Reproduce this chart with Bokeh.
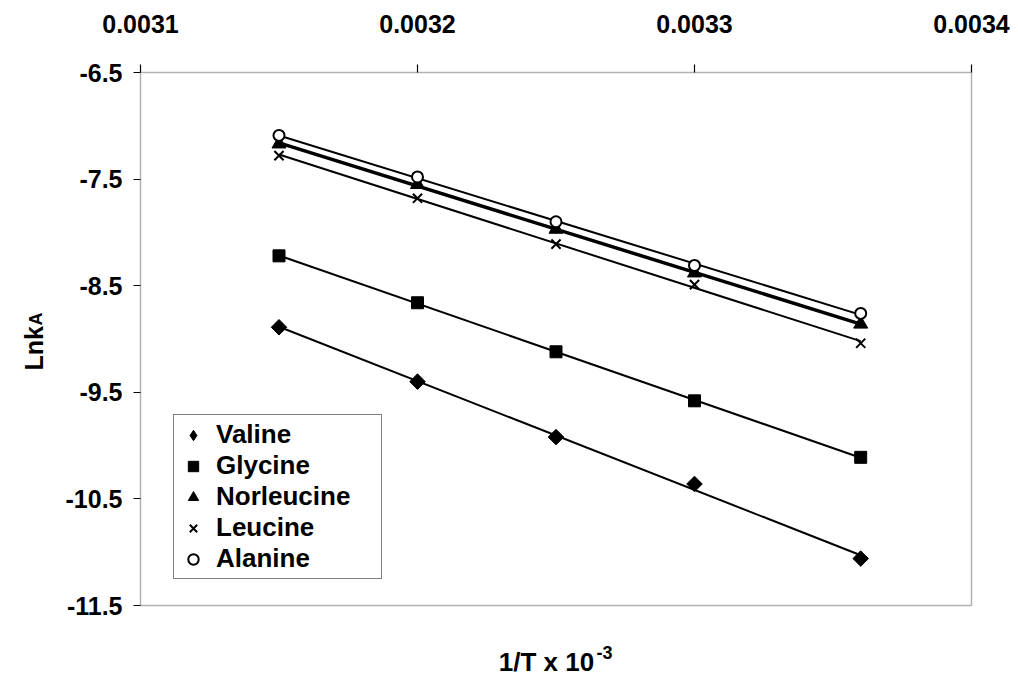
import numpy as np
from bokeh.plotting import figure
from bokeh.models import (FixedTicker, PrintfTickFormatter, Range1d, Label, Legend, LegendItem,
                          BoxAnnotation)
from bokeh.embed import file_html
from bokeh.resources import INLINE

# ---- data ----
inv_T = [0.00315, 0.0032, 0.00325, 0.0033, 0.00336]
valine = [-8.89, -9.40, -9.92, -10.36, -11.06]
glycine = [-8.22, -8.66, -9.12, -9.58, -10.11]
norleucine = [-7.17, -7.55, -7.97, -8.38, -8.86]
leucine = [-7.28, -7.68, -8.11, -8.49, -9.04]
alanine = [-7.09, -7.48, -7.90, -8.31, -8.76]
series_names = ["Valine", "Glycine", "Norleucine", "Leucine", "Alanine"]
x_ticks = [0.0031, 0.0032, 0.0033, 0.0034]
y_ticks = [-6.5, -7.5, -8.5, -9.5, -10.5, -11.5]

FONT = "Liberation Sans"

# ---- layout (pixels on the canvas) ----
W, H = 1018, 677
BOX_L, BOX_R, BOX_T, BOX_B = 140, 971, 72, 605
X0, X1 = x_ticks[0], x_ticks[-1]
Y0, Y1 = y_ticks[-1], y_ticks[0]
dx = (X1 - X0) / (BOX_R - BOX_L)
dy = (Y1 - Y0) / (BOX_B - BOX_T)
x_range = Range1d(X0 - BOX_L * dx, X1 + (W - BOX_R) * dx)
y_range = Range1d(Y0 - (H - BOX_B) * dy, Y1 + BOX_T * dy)

p = figure(width=W, height=H, x_range=x_range, y_range=y_range,
           x_axis_location="above", output_backend="svg", toolbar_location=None,
           min_border=0, min_border_left=0, min_border_right=0, min_border_top=0,
           min_border_bottom=0)
p.grid.visible = False
p.outline_line_color = None
p.background_fill_color = "white"
p.border_fill_color = "white"

xa, ya = p.xaxis[0], p.yaxis[0]
xa.fixed_location = Y1
ya.fixed_location = X0
for ax, ticks, fmt in [(xa, x_ticks, "%.4f"), (ya, y_ticks, "%.1f")]:
    ax.ticker = FixedTicker(ticks=ticks)
    ax.formatter = PrintfTickFormatter(format=fmt)
    ax.major_label_text_font = FONT
    ax.major_label_text_font_style = "bold"
    ax.major_label_text_font_size = "25px"
    ax.major_label_text_color = "black"
    ax.minor_tick_line_color = None
    ax.major_tick_in = 0
    ax.axis_line_color = None
    ax.major_tick_line_color = "black"
    ax.major_tick_line_width = 1.2
xa.major_tick_out = 8
xa.major_label_standoff = 32
ya.major_tick_out = 7
ya.major_label_standoff = 11

# plot box (frame lines)
p.add_layout(BoxAnnotation(left=X0, right=X1, bottom=Y0, top=Y1, fill_alpha=0,
                           line_color="black", line_width=1.5))

xs = np.array(inv_T)
data = [valine, glycine, norleucine, leucine, alanine]
widths = [2, 2, 3.5, 2, 2]
for ys, w in zip(data, widths):
    k, b = np.polyfit(xs, np.array(ys), 1)
    fx = np.array([xs[0], xs[-1]])
    p.line(fx, k * fx + b, line_color="black", line_width=w)

# Valine: diamond core (also used as legend key) under a square rotated by 45 degrees
r_val = p.scatter(inv_T, valine, marker="diamond", size=10, color="black")
p.scatter(inv_T, valine, marker="square", angle=np.pi / 4, size=11, color="black")
r_gly = p.scatter(inv_T, glycine, marker="square", size=12, color="black")
r_nor = p.scatter(inv_T, norleucine, marker="triangle", size=14, color="black")
r_leu = p.scatter(inv_T, leucine, marker="x", size=13, line_color="black", line_width=2)
r_ala = p.scatter(inv_T, alanine, marker="circle", size=11, line_color="black", line_width=2,
                  fill_color="white")

legend = Legend(items=[LegendItem(label=n, renderers=[r]) for n, r in
                       zip(series_names, [r_val, r_gly, r_nor, r_leu, r_ala])],
                location=(173, H - 579))
legend.label_text_font = FONT
legend.label_text_font_style = "bold"
legend.label_text_font_size = "26px"
legend.label_text_color = "black"
legend.glyph_width = 30
legend.glyph_height = 26
legend.label_height = 28
legend.label_width = 161
legend.spacing = 0
legend.padding = 4
legend.margin = 0
legend.label_standoff = 8
legend.border_line_color = "black"
legend.border_line_width = 1
legend.background_fill_color = "white"
legend.background_fill_alpha = 1
p.add_layout(legend, "center")

lab_kw = dict(x_units="screen", y_units="screen", text_font=FONT, text_font_style="bold",
              text_color="black")
p.add_layout(Label(x=33, y=H - 370, text="Lnk", angle=np.pi / 2, text_align="left",
                   text_baseline="alphabetic", text_font_size="25px", **lab_kw))
p.add_layout(Label(x=35, y=H - 325, text="A", angle=np.pi / 2, text_align="left",
                   text_baseline="alphabetic", text_font_size="18px", **lab_kw))
p.add_layout(Label(x=546, y=H - 661, text="1/T x 10", text_align="center",
                   text_baseline="alphabetic", text_font_size="26px", **lab_kw))
p.add_layout(Label(x=596, y=H - 652, text="-3", text_align="left",
                   text_baseline="alphabetic", text_font_size="18px", **lab_kw))

open("out.html", "w").write(file_html(p, INLINE))
